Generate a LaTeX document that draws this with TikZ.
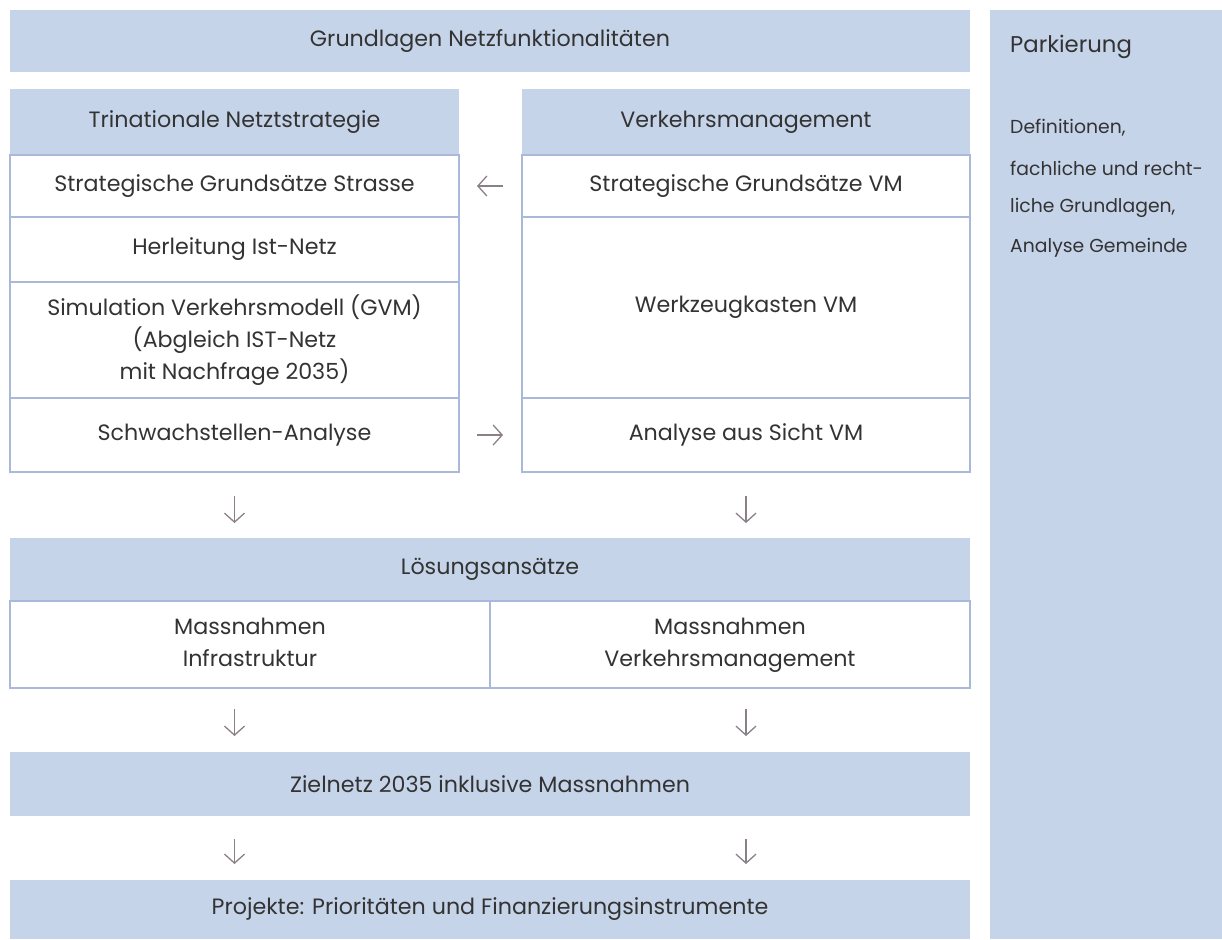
\documentclass[tikz,border=0pt]{standalone}
\usepackage{fontspec}
\setmainfont{Poppins}
\usetikzlibrary{arrows.meta}
\definecolor{fillc}{HTML}{C6D4EA}
\definecolor{linec}{HTML}{AAB9DB}
\definecolor{txtc}{HTML}{333333}
\definecolor{arrc}{HTML}{8C8088}
\tikzset{
  base/.style={anchor=north west, inner sep=0pt, outer sep=0pt, text=txtc, align=center,
    font=\fontsize{22.2}{32}\selectfont},
  hdr/.style={base, fill=fillc, draw=none},
  cell/.style={base, fill=white, draw=linec, line width=1.3pt},
  arr/.style={draw=arrc, line width=1.3pt, -{Straight Barb[length=9pt,width=20pt]}},
  side/.style={anchor=west, inner sep=0pt, text=txtc, font=\fontsize{18.8}{40}\selectfont}
}
\begin{document}
\begin{tikzpicture}[x=1pt,y=-1pt]
\useasboundingbox (0,0) rectangle (1222,939);
% top and side
\node[hdr, minimum width=960, minimum height=62] (grund) at (10,10) {Grundlagen Netzfunktionalitäten};
\node[hdr, minimum width=232, minimum height=929] (park) at (990,10) {};
\node[side, font=\fontsize{22.8}{28}\selectfont] (parkt) at (1010,47) {Parkierung};
\node[side] (p1) at (1010,128) {Definitionen,};
\node[side] (p2) at (1010,168) {fachliche und recht-};
\node[side] (p3) at (1010,208) {liche Grundlagen,};
\node[side] (p4) at (1010,248) {Analyse Gemeinde};
% left column
\node[hdr, minimum width=449, minimum height=66] (tsh) at (10,89) {Trinationale Netztstrategie};
\node[cell, minimum width=449, minimum height=62] (ts1) at (10,155) {Strategische Grundsätze Strasse};
\node[cell, minimum width=449, minimum height=65] (ts2) at (10,217) {Herleitung Ist-Netz};
\node[cell, minimum width=449, minimum height=116] (ts3) at (10,282) {Simulation Verkehrsmodell (GVM)\\(Abgleich IST-Netz\\mit Nachfrage 2035)};
\node[cell, minimum width=449, minimum height=74] (ts4) at (10,398) {Schwachstellen-Analyse};
% right column
\node[hdr, minimum width=448, minimum height=66] (vmh) at (522,89) {Verkehrsmanagement};
\node[cell, minimum width=448, minimum height=62] (vm1) at (522,155) {Strategische Grundsätze VM};
\node[cell, minimum width=448, minimum height=181] (vm2) at (522,217) {Werkzeugkasten VM};
\node[cell, minimum width=448, minimum height=74] (vm3) at (522,398) {Analyse aus Sicht VM};
% Loesungsansaetze
\node[hdr, minimum width=960, minimum height=63] (loesh) at (10,538) {Lösungsansätze};
\node[cell, minimum width=480, minimum height=87] (m1) at (10,601) {\strut Massnahmen\\Infrastruktur\strut};
\node[cell, minimum width=480, minimum height=87] (m2) at (490,601) {\strut Massnahmen\\Verkehrsmanagement\strut};
% bottom
\node[hdr, minimum width=960, minimum height=64] (ziel) at (10,752) {Zielnetz 2035 inklusive Massnahmen};
\node[hdr, minimum width=960, minimum height=59] (proj) at (10,880) {Projekte: Prioritäten und Finanzierungsinstrumente};
% arrows
\draw[arr, shorten <=19pt, shorten >=18pt] (vm1.west) -- (ts1.east);
\draw[arr, shorten <=18pt, shorten >=19pt] (ts4.east) -- (vm3.west);
\draw[arr, shorten <=24pt, shorten >=15pt] (ts4.south) -- (ts4.south |- loesh.north);
\draw[arr, shorten <=24pt, shorten >=15pt] (vm3.south) -- (vm3.south |- loesh.north);
\coordinate (c1) at (ts4.south |- m1.south);
\coordinate (c2) at (vm3.south |- m2.south);
\draw[arr, shorten <=21pt, shorten >=16pt] (c1) -- (c1 |- ziel.north);
\draw[arr, shorten <=21pt, shorten >=16pt] (c2) -- (c2 |- ziel.north);
\coordinate (c3) at (ts4.south |- ziel.south);
\coordinate (c4) at (vm3.south |- ziel.south);
\draw[arr, shorten <=23pt, shorten >=16pt] (c3) -- (c3 |- proj.north);
\draw[arr, shorten <=23pt, shorten >=16pt] (c4) -- (c4 |- proj.north);
\end{tikzpicture}
\end{document}
